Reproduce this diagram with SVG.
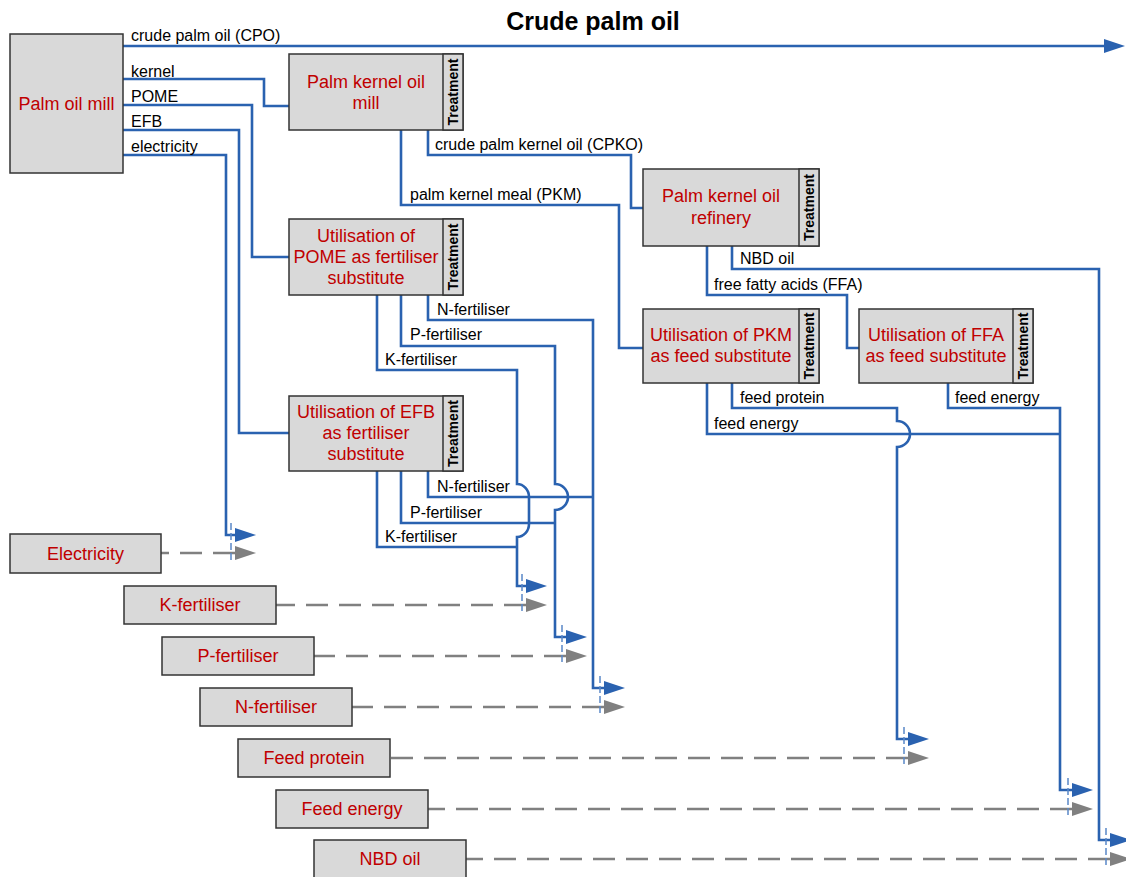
<svg xmlns="http://www.w3.org/2000/svg" width="1126" height="877" viewBox="0 0 1126 877">
  <style>
    .box { fill: #d9d9d9; stroke: #333333; stroke-width: 1.5; }
    .name { font-family: "Liberation Sans", Arial, sans-serif; font-size: 18px; fill: #c00000; text-anchor: middle; }
    .tag { font-family: "Liberation Sans", Arial, sans-serif; font-size: 14px; font-weight: bold; fill: #000000; text-anchor: middle; }
    .lbl { font-family: "Liberation Sans", Arial, sans-serif; font-size: 16px; fill: #000000; }
    .title { font-family: "Liberation Sans", Arial, sans-serif; font-size: 25px; font-weight: bold; fill: #000000; text-anchor: middle; }
    .flow { fill: none; stroke: #2a62b0; stroke-width: 2.6; stroke-linejoin: miter; }
    .ref { fill: none; stroke: #808080; stroke-width: 2.6; stroke-dasharray: 22 11; }
    .tick { fill: none; stroke: #5a88c8; stroke-width: 1.5; stroke-dasharray: 7 3; }
  </style>
  <defs>
    <marker id="arrBlue" markerUnits="userSpaceOnUse" viewBox="0 0 21 14" markerWidth="21" markerHeight="14" refX="0" refY="7" orient="auto">
      <path d="M0,0 L21,7 L0,14 Z" fill="#2a62b0"/>
    </marker>
    <marker id="arrGray" markerUnits="userSpaceOnUse" viewBox="0 0 21 14" markerWidth="21" markerHeight="14" refX="0" refY="7" orient="auto-start-reverse">
      <path d="M0,0 L21,7 L0,14 Z" fill="#808080"/>
    </marker>
  </defs>

  <rect width="1126" height="877" fill="#ffffff"/>

  <text class="title" x="593" y="30">Crude palm oil</text>

  <!-- process flows -->
  <g id="connectors">
    <path class="flow" d="M123,46 H1104" marker-end="url(#arrBlue)"/>
    <path class="flow" d="M123,79 H264 V106 H289"/>
    <path class="flow" d="M123,105 H252 V257 H289"/>
    <path class="flow" d="M123,130 H239 V433 H289"/>
    <path class="flow" d="M123,155 H226 V535 H235" marker-end="url(#arrBlue)"/>

    <path class="flow" d="M428,130 V155 H631 V208 H643"/>
    <path class="flow" d="M401,130 V205 H619 V348 H643"/>

    <path class="flow" d="M732,246 V269 H1099 V840 H1110" marker-end="url(#arrBlue)"/>
    <path class="flow" d="M707,246 V295 H847 V348 H859"/>

    <path class="flow" d="M428,295 V320 H593 V688 H604" marker-end="url(#arrBlue)"/>
    <path class="flow" d="M401,295 V346 H555 V484 A13,13 0 0 1 555,510 V637 H566" marker-end="url(#arrBlue)"/>
    <path class="flow" d="M377,295 V370 H517 V484 A12,13 0 0 1 529,497 V524 A12,13 0 0 1 517,537 V586 H526" marker-end="url(#arrBlue)"/>

    <path class="flow" d="M428,471 V497 H593"/>
    <path class="flow" d="M401,471 V523 H555"/>
    <path class="flow" d="M377,471 V547 H517"/>

    <path class="flow" d="M732,383 V408 H897 V421 A13,13 0 0 1 897,447 V739 H908" marker-end="url(#arrBlue)"/>
    <path class="flow" d="M707,383 V434 H1060"/>
    <path class="flow" d="M948,383 V408 H1060 V790 H1072" marker-end="url(#arrBlue)"/>

    <!-- reference product lines -->
    <path class="ref" d="M235,553 H161" marker-start="url(#arrGray)"/>
    <path class="ref" d="M526,605 H276" marker-start="url(#arrGray)"/>
    <path class="ref" d="M566,656 H314" marker-start="url(#arrGray)"/>
    <path class="ref" d="M604,707 H352" marker-start="url(#arrGray)"/>
    <path class="ref" d="M908,758 H390" marker-start="url(#arrGray)"/>
    <path class="ref" d="M1072,809 H428" marker-start="url(#arrGray)"/>
    <path class="ref" d="M1110,859 H466" marker-start="url(#arrGray)"/>

    <!-- substitution marks -->
    <path class="tick" d="M231,523 V563"/>
    <path class="tick" d="M522,574 V614"/>
    <path class="tick" d="M562,625 V665"/>
    <path class="tick" d="M600,676 V716"/>
    <path class="tick" d="M904,727 V767"/>
    <path class="tick" d="M1068,778 V818"/>
    <path class="tick" d="M1106,828 V868"/>

    <!-- flow labels -->
    <text class="lbl" x="131" y="41">crude palm oil (CPO)</text>
    <text class="lbl" x="131" y="77">kernel</text>
    <text class="lbl" x="131" y="102">POME</text>
    <text class="lbl" x="131" y="127">EFB</text>
    <text class="lbl" x="131" y="152">electricity</text>
    <text class="lbl" x="435" y="150">crude palm kernel oil (CPKO)</text>
    <text class="lbl" x="410" y="200">palm kernel meal (PKM)</text>
    <text class="lbl" x="740" y="264">NBD oil</text>
    <text class="lbl" x="714" y="290">free fatty acids (FFA)</text>
    <text class="lbl" x="437" y="315">N-fertiliser</text>
    <text class="lbl" x="410" y="340">P-fertiliser</text>
    <text class="lbl" x="385" y="365">K-fertiliser</text>
    <text class="lbl" x="740" y="403">feed protein</text>
    <text class="lbl" x="714" y="429">feed energy</text>
    <text class="lbl" x="955" y="403">feed energy</text>
    <text class="lbl" x="437" y="492">N-fertiliser</text>
    <text class="lbl" x="410" y="518">P-fertiliser</text>
    <text class="lbl" x="385" y="542">K-fertiliser</text>
  </g>

  <!-- source -->
  <g id="palm-oil-mill">
    <rect class="box" x="10" y="34" width="113" height="139"/>
    <text class="name" x="66.5" y="110">Palm oil mill</text>
  </g>

  <!-- treatment units -->
  <g id="palm-kernel-oil-mill">
    <rect class="box" x="289" y="54" width="174" height="76"/>
    <rect class="box" x="443" y="54" width="20" height="76"/>
    <text class="name" x="366" y="88">Palm kernel oil</text>
    <text class="name" x="366" y="109">mill</text>
    <text class="tag" x="453" y="92" dy="5" transform="rotate(-90 453 92)">Treatment</text>
  </g>

  <g id="pome-utilisation">
    <rect class="box" x="289" y="219" width="174" height="76"/>
    <rect class="box" x="443" y="219" width="20" height="76"/>
    <text class="name" x="366" y="242">Utilisation of</text>
    <text class="name" x="366" y="263">POME as fertiliser</text>
    <text class="name" x="366" y="284">substitute</text>
    <text class="tag" x="453" y="257" dy="5" transform="rotate(-90 453 257)">Treatment</text>
  </g>

  <g id="efb-utilisation">
    <rect class="box" x="289" y="396" width="174" height="75"/>
    <rect class="box" x="443" y="396" width="20" height="75"/>
    <text class="name" x="366" y="418">Utilisation of EFB</text>
    <text class="name" x="366" y="439">as fertiliser</text>
    <text class="name" x="366" y="460">substitute</text>
    <text class="tag" x="453" y="433.5" dy="5" transform="rotate(-90 453 433.5)">Treatment</text>
  </g>

  <g id="palm-kernel-oil-refinery">
    <rect class="box" x="643" y="169" width="176" height="77"/>
    <rect class="box" x="799" y="169" width="20" height="77"/>
    <text class="name" x="721" y="202">Palm kernel oil</text>
    <text class="name" x="721" y="224">refinery</text>
    <text class="tag" x="809" y="207.5" dy="5" transform="rotate(-90 809 207.5)">Treatment</text>
  </g>

  <g id="pkm-utilisation">
    <rect class="box" x="643" y="309" width="176" height="74"/>
    <rect class="box" x="799" y="309" width="20" height="74"/>
    <text class="name" x="721" y="341">Utilisation of PKM</text>
    <text class="name" x="721" y="362">as feed substitute</text>
    <text class="tag" x="809" y="346" dy="5" transform="rotate(-90 809 346)">Treatment</text>
  </g>

  <g id="ffa-utilisation">
    <rect class="box" x="859" y="309" width="174" height="74"/>
    <rect class="box" x="1013" y="309" width="20" height="74"/>
    <text class="name" x="936" y="341">Utilisation of FFA</text>
    <text class="name" x="936" y="362">as feed substitute</text>
    <text class="tag" x="1023" y="346" dy="5" transform="rotate(-90 1023 346)">Treatment</text>
  </g>

  <!-- substituted products -->
  <g id="electricity">
    <rect class="box" x="10" y="534" width="151" height="39"/>
    <text class="name" x="85.5" y="560">Electricity</text>
  </g>
  <g id="k-fertiliser">
    <rect class="box" x="124" y="586" width="152" height="38"/>
    <text class="name" x="200" y="611">K-fertiliser</text>
  </g>
  <g id="p-fertiliser">
    <rect class="box" x="162" y="637" width="152" height="38"/>
    <text class="name" x="238" y="662">P-fertiliser</text>
  </g>
  <g id="n-fertiliser">
    <rect class="box" x="200" y="688" width="152" height="38"/>
    <text class="name" x="276" y="713">N-fertiliser</text>
  </g>
  <g id="feed-protein">
    <rect class="box" x="238" y="739" width="152" height="38"/>
    <text class="name" x="314" y="764">Feed protein</text>
  </g>
  <g id="feed-energy">
    <rect class="box" x="276" y="790" width="152" height="38"/>
    <text class="name" x="352" y="815">Feed energy</text>
  </g>
  <g id="nbd-oil">
    <rect class="box" x="314" y="840" width="152" height="38"/>
    <text class="name" x="390" y="865">NBD oil</text>
  </g>
</svg>
